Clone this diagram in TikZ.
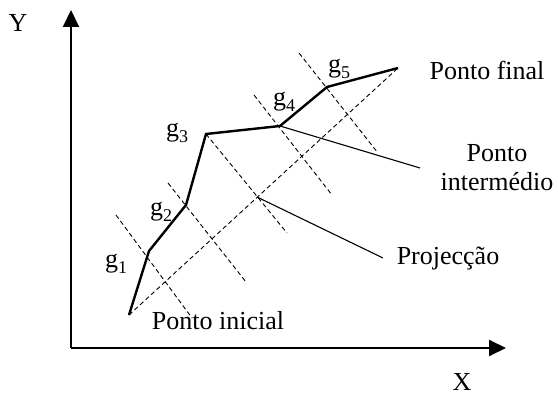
\documentclass[tikz,border=0pt]{standalone}
\usepackage{fontspec}
\setmainfont{Liberation Serif}
\usetikzlibrary{arrows.meta}
\tikzset{
  lbl/.style={inner sep=0pt, font=\fontsize{26}{30}\selectfont},
  glbl/.style={inner sep=0pt, anchor=base west, font=\fontsize{26}{30}\selectfont},
  axis/.style={line width=2pt, -{Triangle[length=17pt,width=16pt]}},
  path/.style={line width=2.4pt, line join=miter},
  proj/.style={line width=0.9pt, dash pattern=on 4.5pt off 3pt},
  leader/.style={line width=1.1pt}
}
\newcommand{\gsub}[1]{g\raisebox{-6pt}{\fontsize{18}{18}\selectfont #1}}
\begin{document}
\begin{tikzpicture}[x=1pt,y=-1pt]
\useasboundingbox (0,0) rectangle (558,395);
% axes
\coordinate (O) at (71,348);
\coordinate (Ytip) at (71,10);
\coordinate (Xtip) at (506,348);
\draw[axis] (O) -- (Ytip);
\draw[axis] (O) -- (Xtip);
\node[lbl] (ylab) at (18,23) {Y};
\node[lbl] (xlab) at (462,382) {X};
% vertices
\coordinate (p0) at (129,315);
\coordinate (p1) at (149,251);
\coordinate (p2) at (186,205);
\coordinate (p3) at (206,134);
\coordinate (p4) at (280,126);
\coordinate (p5) at (327,87);
\coordinate (p6) at (398,68);
% chord
\draw[proj] (p0) -- (p6);
% perpendicular dashed lines
\coordinate (a1) at (116,215); \coordinate (b1) at (192,318);
\coordinate (a2) at (168,183); \coordinate (b2) at (246,282);
\coordinate (a3) at (206,134); \coordinate (b3) at (287,233);
\coordinate (a4) at (254,95);  \coordinate (b4) at (332,195);
\coordinate (a5) at (299,53);  \coordinate (b5) at (378,153);
\foreach \i in {1,...,5} \draw[proj] (a\i) -- (b\i);
% polyline
\draw[path] (p0) -- (p1) -- (p2) -- (p3) -- (p4) -- (p5) -- (p6);
% leader lines
\coordinate (q3) at (257,197);
\coordinate (e1) at (420,168);
\coordinate (e2) at (383,258);
\draw[leader] (p4) -- (e1);
\draw[leader] (q3) -- (e2);
% labels
\node[lbl] (final) at (487,70) {Ponto final};
\node[lbl, align=center] (inter) at (497,168) {Ponto\\[-1pt]intermédio};
\node[lbl] (projec) at (448,259) {Projecção};
\node[lbl] (inicial) at (218,321) {Ponto inicial};
\node[glbl] (g1) at (105,268) {\gsub{1}};
\node[glbl] (g2) at (150,216) {\gsub{2}};
\node[glbl] (g3) at (166,137) {\gsub{3}};
\node[glbl] (g4) at (273,106) {\gsub{4}};
\node[glbl] (g5) at (328,73) {\gsub{5}};
\end{tikzpicture}
\end{document}
